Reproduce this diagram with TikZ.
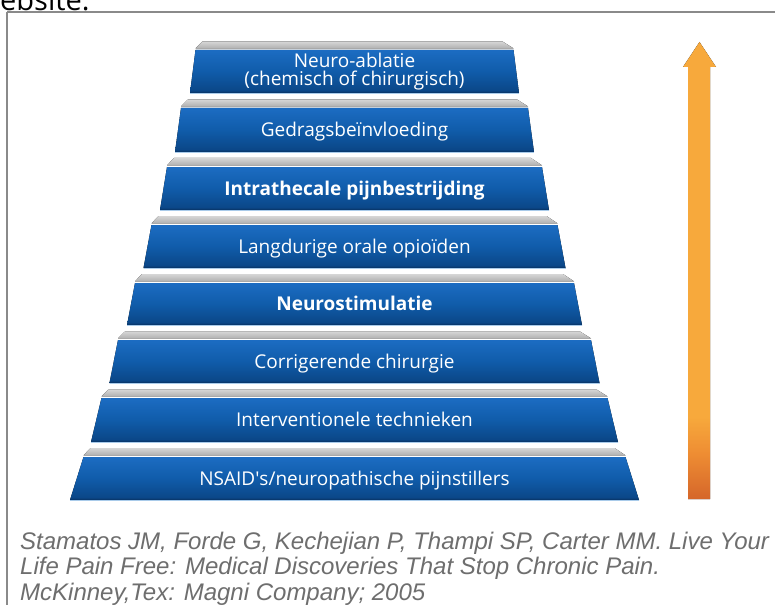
\documentclass[tikz,border=0pt]{standalone}
\usepackage{fontspec}
\setmainfont{Open Sans}
\newfontfamily\citefont{Liberation Sans}
\usetikzlibrary{calc}

% colours
\definecolor{tierT}{HTML}{1C6CC2}
\definecolor{tierM}{HTML}{105CAA}
\definecolor{tierD}{HTML}{0B4788}
\definecolor{tierB}{HTML}{07305F}
\definecolor{capT}{HTML}{D6D6D6}
\definecolor{capB}{HTML}{B0B0B0}
\definecolor{rimblue}{HTML}{A9CBEA}
\definecolor{arrT}{HTML}{F7A93C}
\definecolor{arrM}{HTML}{EE8D33}
\definecolor{arrB}{HTML}{D5662A}
\definecolor{framegray}{HTML}{8A8A8A}
\definecolor{citegray}{HTML}{6E6E6E}

% vertical shadings: 25bp = bottom of the path, 75bp = top of the path
\pgfdeclareverticalshading{tierfill}{100bp}{color(0bp)=(tierB); color(25bp)=(tierB);
  color(28bp)=(tierD); color(50bp)=(tierM); color(75bp)=(tierT); color(100bp)=(tierT)}
\pgfdeclareverticalshading{capfill}{100bp}{color(0bp)=(capB); color(25bp)=(capB);
  color(75bp)=(capT); color(100bp)=(capT)}
\pgfdeclareverticalshading{arrowfill}{100bp}{color(0bp)=(arrB); color(25bp)=(arrB);
  color(30bp)=(arrM); color(34bp)=(arrT); color(100bp)=(arrT)}

% one slab of the pyramid: #1 grey top, #2 blue top, #3 blue bottom,
% #4 half width at blue top, #5 half width at blue bottom
\newcommand{\pyrslab}[5]{%
  \fill[shading=capfill] (\cx-#4+7,#1) -- (\cx+#4-11,#1) -- (\cx+#4,#2-1.6) -- (\cx-#4,#2-1.6) -- cycle;
  \fill[shading=tierfill] (\cx-#4,#2) -- (\cx+#4,#2) -- (\cx+#5,#3) -- (\cx-#5,#3) -- cycle;
  \draw[rimblue, line width=0.8pt] (\cx-#5,#3+0.6) -- (\cx+#5,#3+0.6);
}
\newcommand{\cx}{354.5}

\begin{document}
\begin{tikzpicture}[x=1pt, y=-1pt,
  tiertext/.style={text=white, font=\fontsize{19}{17.5}\selectfont, inner sep=0pt, align=center},
  tierbold/.style={tiertext, font=\fontsize{19}{17.5}\selectfont\bfseries},
  citetext/.style={text=citegray, font=\citefont\itshape\fontsize{24}{26}\selectfont, inner sep=0pt, anchor=base west}]

\useasboundingbox (0,0) rectangle (775,604);
\fill[white] (0,0) rectangle (775,604);

% clipped word above the frame
\node[anchor=base west, inner sep=0pt, font=\fontsize{29}{31}\selectfont] (webword) at (0,10.5) {ebsite.};

% frame
\draw[framegray, line width=1.3pt] (7,12) -- (790,12);
\draw[framegray, line width=1.3pt] (7,12) -- (7,620);

% pyramid slabs, top to bottom
\pyrslab{41.5}{50}{93}{159}{164.5}
\pyrslab{99.5}{108}{152}{173.5}{179.5}
\pyrslab{158}{167}{210}{187.5}{194.5}
\pyrslab{216}{225}{268}{203}{211}
\pyrslab{274}{283}{325}{219.5}{227.5}
\pyrslab{331.5}{340}{383}{236.5}{245}
\pyrslab{389.5}{398}{442}{253}{263.5}
\pyrslab{448}{457}{500}{271}{284.5}

% labels
\node[tiertext] (t1) at (\cx,71.5) {Neuro-ablatie\\(chemisch of chirurgisch)};
\node[tiertext, anchor=base] (t2) at (\cx,136.5) {Gedragsbeïnvloeding};
\node[tierbold, anchor=base] (t3) at (\cx,195) {Intrathecale pijnbestrijding};
\node[tiertext, anchor=base] (t4) at (\cx,253) {Langdurige orale opioïden};
\node[tierbold, anchor=base] (t5) at (\cx,310.5) {Neurostimulatie};
\node[tiertext, anchor=base] (t6) at (\cx,368) {Corrigerende chirurgie};
\node[tiertext, anchor=base] (t7) at (\cx,426.5) {Interventionele technieken};
\node[tiertext, anchor=base] (t8) at (\cx,485) {NSAID\textquotesingle s/neuropathische pijnstillers};

% rising arrow beside the pyramid
\fill[shading=arrowfill] (699.5,42) -- (716,67) -- (710,67) -- (710,499) -- (688,499) -- (688,67) -- (683,67) -- cycle;

% reference
\node[citetext] (c1) at (20,549) {Stamatos JM, Forde G, Kechejian P, Thampi SP, Carter MM. Live Your};
\node[citetext] (c2) at (20,574) {Life Pain Free: Medical Discoveries That Stop Chronic Pain.};
\node[citetext] (c3) at (20,600) {McKinney,Tex: Magni Company; 2005};
\end{tikzpicture}
\end{document}
